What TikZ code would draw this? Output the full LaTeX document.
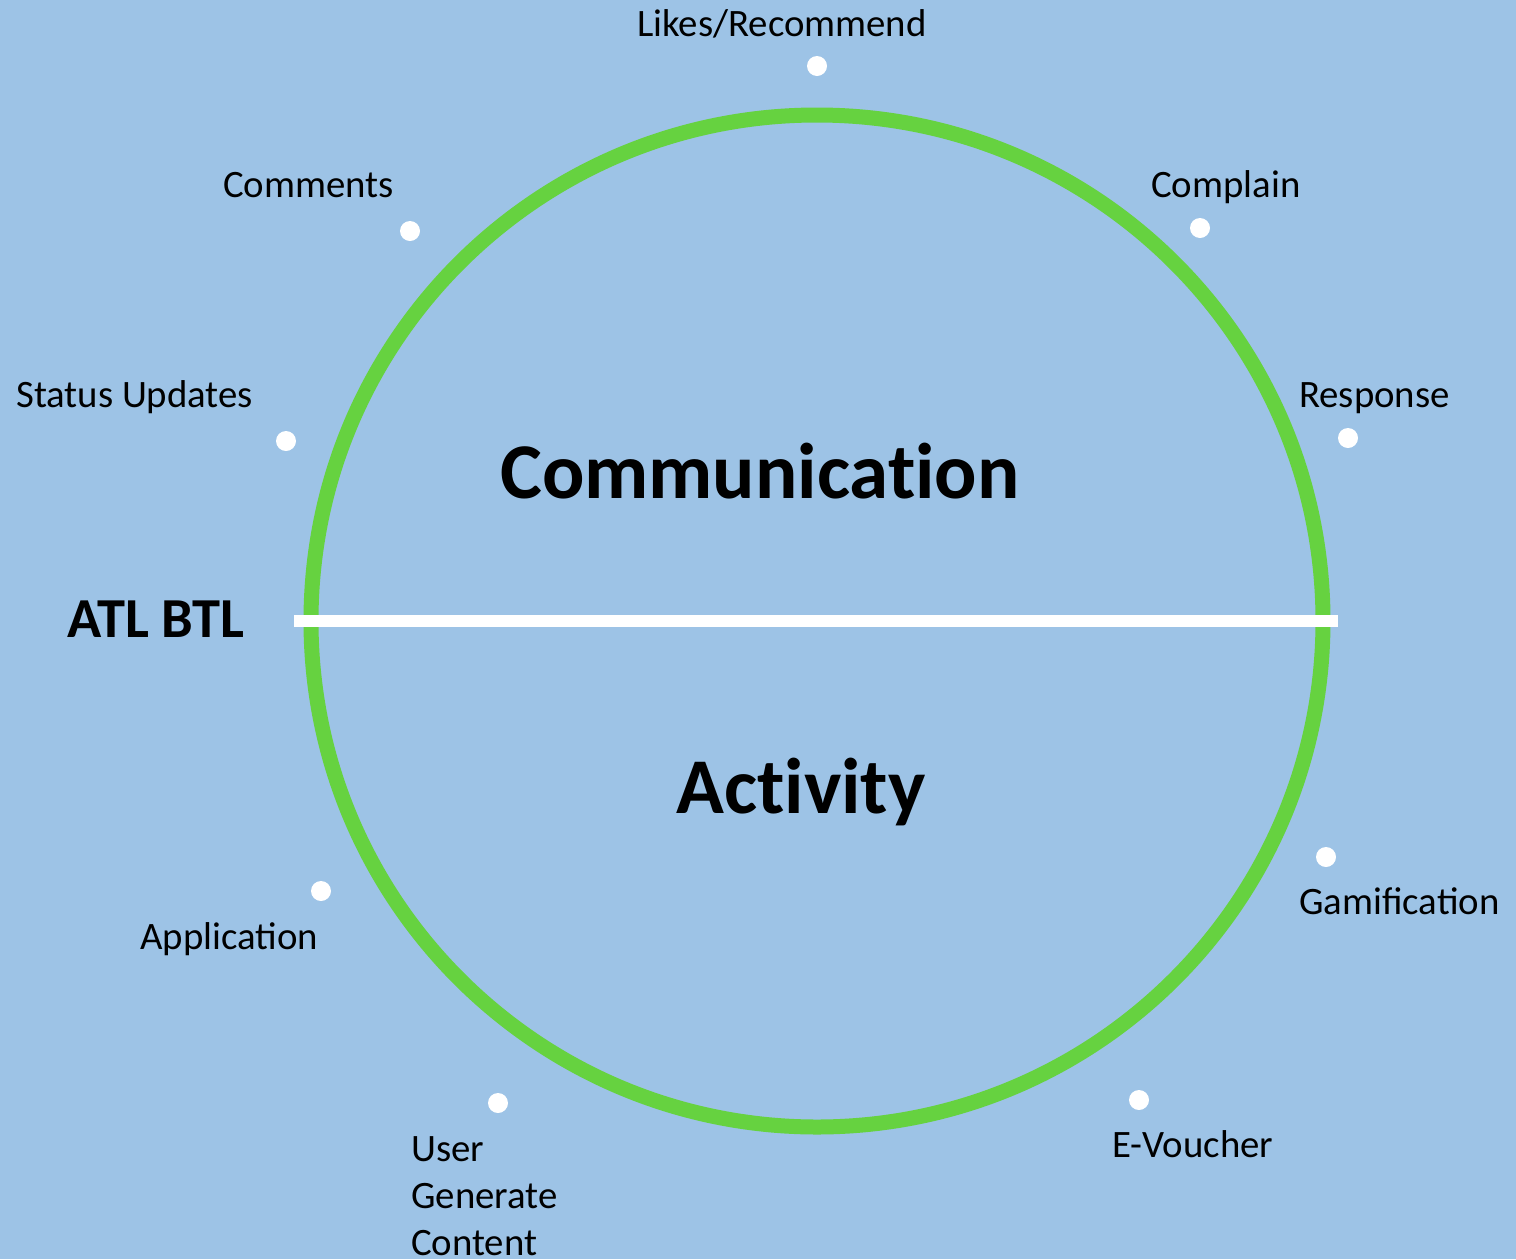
\documentclass[tikz,border=0pt]{standalone}
\usepackage{fontspec}
\setmainfont{Carlito}
\definecolor{bgblue}{HTML}{9DC3E6}
\definecolor{ringgreen}{HTML}{66D240}
\begin{document}
\begin{tikzpicture}[x=1pt,y=-1pt,
  dot/.style={circle,fill=white,inner sep=0pt,minimum size=20pt},
  lbl/.style={anchor=base west,inner sep=0pt,font=\fontsize{38.8}{47}\selectfont,text=black},
  big/.style={anchor=base,inner sep=0pt,font=\fontsize{79}{90}\selectfont\bfseries\addfontfeatures{Ligatures=NoCommon},text=black}]
\fill[bgblue] (0,0) rectangle (1516,1259);
\useasboundingbox (0,0) rectangle (1516,1259);
\node[circle,draw=ringgreen,line width=15pt,minimum size=1012pt,inner sep=0pt] (ring) at (817,621) {};
\coordinate (lineL) at (294,621);
\coordinate (lineR) at (1338,621);
\draw[white,line width=12pt] (lineL) -- (lineR);
\node[big] (comm) at (760,498) {Communication};
\node[big] (act) at (801,813) {Activity};
\node[anchor=base west,inner sep=0pt,font=\fontsize{56.5}{60}\selectfont\bfseries] (atl) at (67,637) {ATL BTL};
% dots
\node[dot] (d1) at (817,66) {};
\node[dot] (d2) at (410,231) {};
\node[dot] (d3) at (1200,228) {};
\node[dot] (d4) at (286,441) {};
\node[dot] (d5) at (1348,438) {};
\node[dot] (d6) at (321,891) {};
\node[dot] (d7) at (1326,857) {};
\node[dot] (d8) at (498,1103) {};
\node[dot] (d9) at (1139,1100) {};
% labels
\node[lbl] (l1) at (637,36) {Likes/Recommend};
\node[lbl] (l2) at (223,197) {Comments};
\node[lbl] (l3) at (1151,197) {Complain};
\node[lbl] (l4) at (16,407) {Status Updates};
\node[lbl] (l5) at (1299,407) {Response};
\node[lbl] (l6) at (140,949) {Application};
\node[lbl] (l7) at (1299,914) {Gamification};
\node[lbl,align=left,anchor=north west] (l8) at (411,1136) {User\\Generate\\Content};
\node[lbl] (l9) at (1112,1157) {E-Voucher};
\end{tikzpicture}
\end{document}
